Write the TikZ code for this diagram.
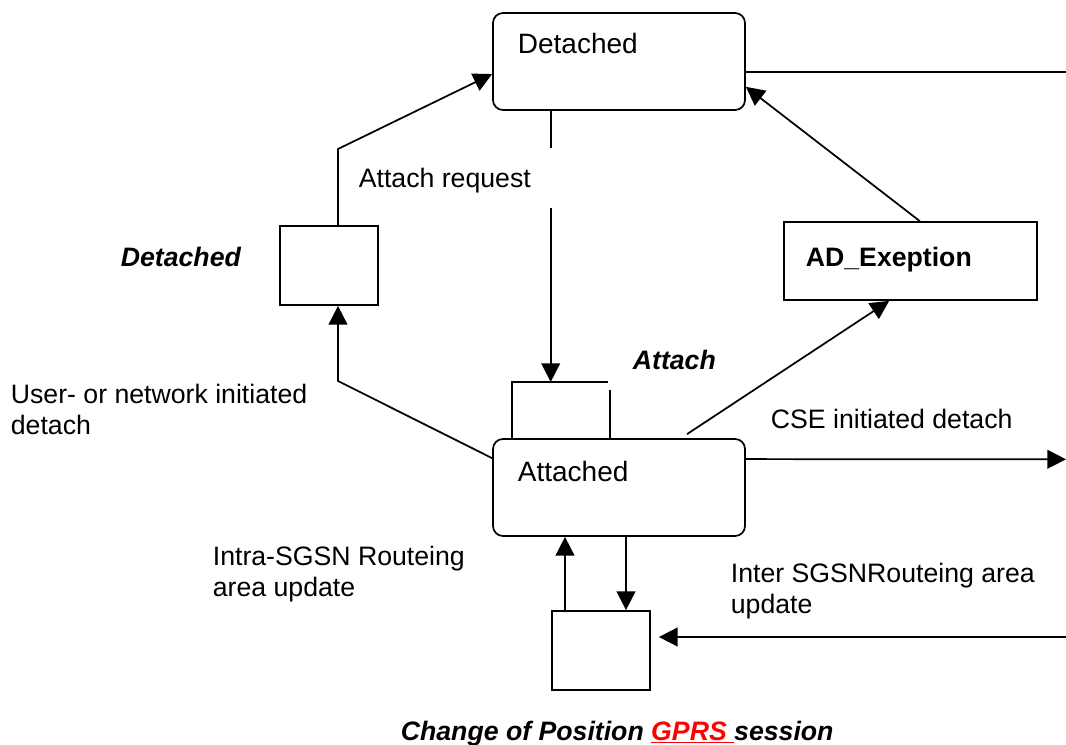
\documentclass[tikz,border=0pt]{standalone}
\usepackage{fontspec}
\setmainfont{Liberation Sans}
\usetikzlibrary{positioning,arrows.meta}

\begin{document}
\begin{tikzpicture}[
    x=0.75pt, y=-0.75pt,
    line width=1.3pt,
    state/.style={draw, rounded corners=7.5pt, minimum width=189pt, minimum height=72.75pt, inner sep=0pt},
    substate/.style={draw, minimum width=73.5pt, minimum height=59.25pt, inner sep=0pt},
    exception/.style={draw, minimum width=189.75pt, minimum height=58.5pt, inner sep=0pt},
    statetext/.style={font=\fontsize{21}{24}\selectfont, anchor=base west, inner sep=0pt},
    lbl/.style={font=\fontsize{20}{23}\selectfont, align=left, anchor=base west, inner sep=0pt},
    bilbl/.style={lbl, font=\fontsize{20}{23}\selectfont\bfseries\itshape},
    arrow/.style={draw, -{Triangle[length=14pt, width=14pt]}}
]

\useasboundingbox (0,0) rectangle (1066,745);

% Define states
\node[state] (detached) at (619,61.5) {};
\node[state] (attached) at (619,487.5) {};
\node[substate] (detsub) at (329,265.5) {};
\node[substate] (chgsub) at (601,650.5) {};
\node[exception] (adexc) at (910.5,261) {};

% State names
\node[statetext] (detachedtxt) at (517,54) {Detached};
\node[statetext] (attachedtxt) at (517,481.7) {Attached};
\node[lbl, font=\fontsize{20}{23}\selectfont\bfseries] (adexctxt) at (805,267) {AD\_Exeption};

% Open box on top of attached
\draw (512,439) -- (512,382) -- (608,382);
\draw (610,390) -- (610,439);

% Bends and free ends
\coordinate (attachtop) at (550.7,382);
\coordinate (reqtop) at (550.7,148);
\coordinate (reqbot) at (550.7,208);
\coordinate (bendup) at (338,149);
\coordinate (benddown) at (338,381);
\coordinate (outtop) at (1066,72);
\coordinate (outcse) at (1066,459.3);
\coordinate (ininter) at (1066,637);
\path ([xshift=-27pt]chgsub.north) coordinate (upfoot)
      ([xshift=18.75pt]chgsub.north) coordinate (downfoot);

% Draw transitions
\draw (detached.south -| reqtop) -- (reqtop);
\draw[arrow] (reqbot) -- (attachtop);
\draw[arrow] (detsub.north -| bendup) -- (bendup) -- ([yshift=-9.4pt]detached.west);
\draw[arrow] ([yshift=22pt]attached.west) -- (benddown) -- (detsub.south -| benddown);
\draw[arrow] ([xshift=7pt]adexc.north) -- ([yshift=-19pt]detached.east);
\draw[arrow] ([xshift=51pt,yshift=3pt]attached.north) -- ([xshift=-16pt]adexc.south);
\draw ([yshift=-7.9pt]detached.east) -- (outtop);
\draw[arrow] ([yshift=21.3pt]attached.east) -- (outcse);
\draw[arrow, shorten >=6pt] (ininter) -- (ininter -| chgsub.east);
\draw[arrow] (upfoot) -- (upfoot |- attached.south);
\draw[arrow] (downfoot |- attached.south) -- (downfoot);

% Labels (multi-line ones sit on their last baseline)
\node[lbl] (reqlbl) at (358,188) {Attach request};
\node[lbl] (userlbl) at (10,434) {User- or network initiated\\detach};
\node[bilbl] (detlbl) at (120,267) {Detached};
\node[bilbl] (attlbl) at (632,369) {Attach};
\node[lbl] (cselbl) at (770,428) {CSE initiated detach};
\node[lbl] (intralbl) at (212,596) {Intra-SGSN Routeing\\area update};
\node[lbl] (interlbl) at (730,613) {Inter SGSNRouteing area\\update};
\node[bilbl] (titlelbl) at (400,740) {Change of Position \textcolor{red}{\underline{GPRS\ }}session};

\end{tikzpicture}
\end{document}
